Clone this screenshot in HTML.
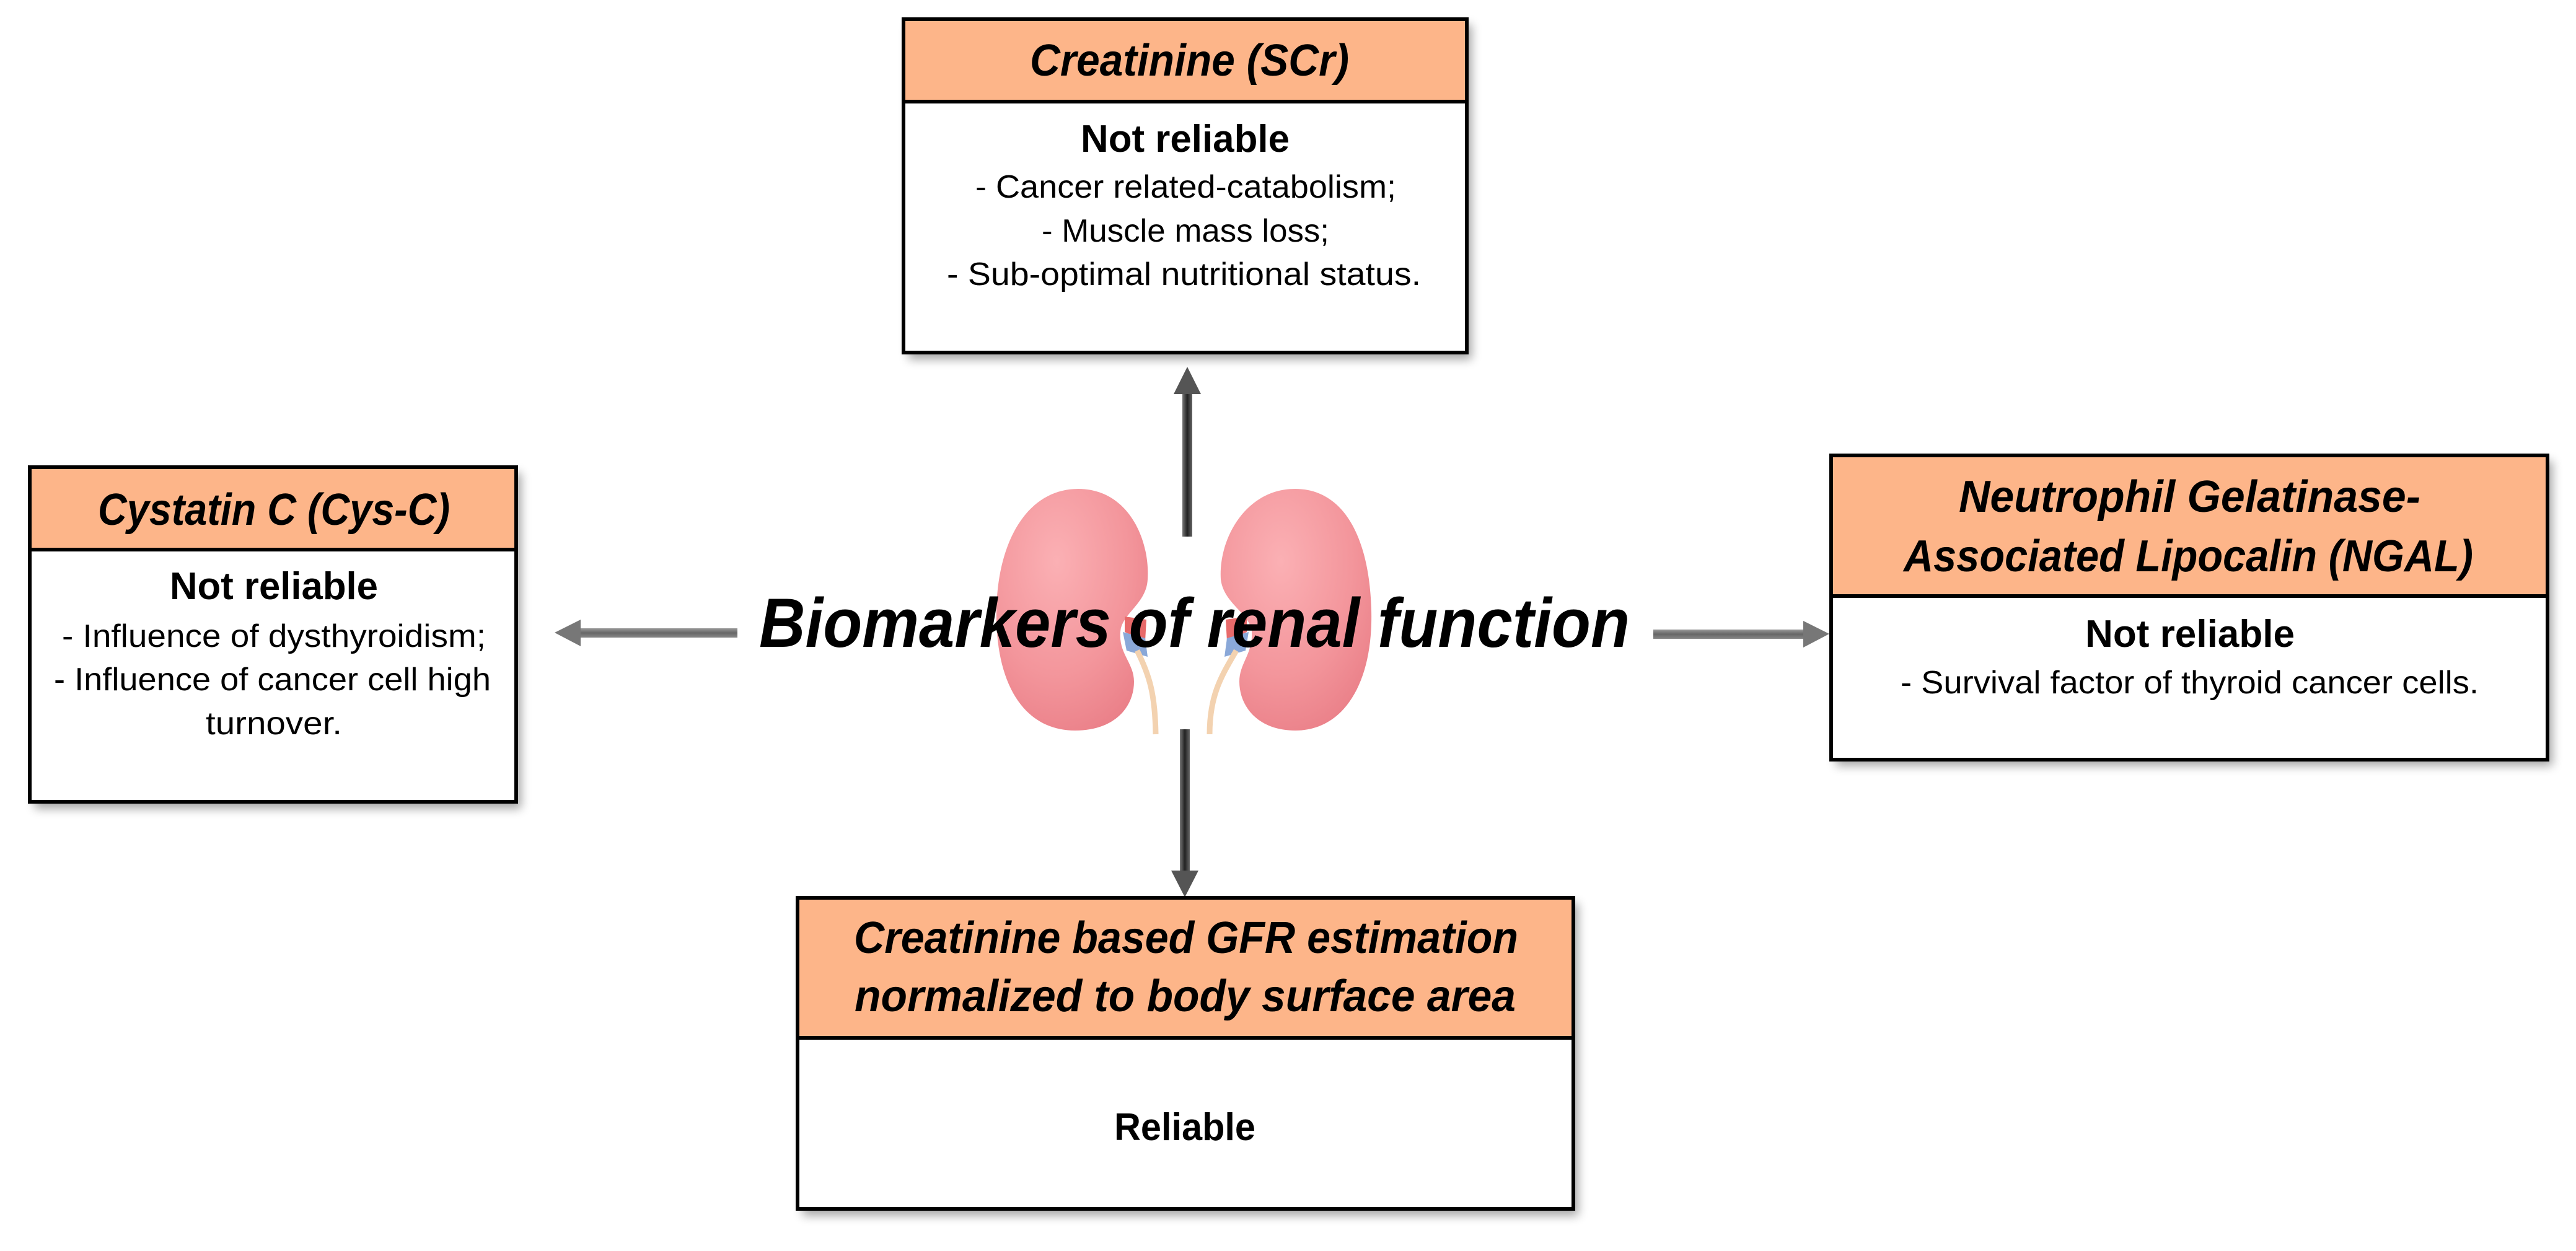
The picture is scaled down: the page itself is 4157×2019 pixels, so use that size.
<!DOCTYPE html>
<html><head><meta charset="utf-8"><style>
html,body{margin:0;padding:0;background:#fff;}
svg{display:block;}
text{font-family:"Liberation Sans",sans-serif;fill:#000;}
.h{font-weight:bold;font-style:italic;}
.b{font-weight:bold;}
</style></head><body>
<svg width="4157" height="2019" viewBox="0 0 4157 2019" xmlns="http://www.w3.org/2000/svg">
<defs>
<filter id="sh" x="-5%" y="-5%" width="115%" height="120%"><feGaussianBlur stdDeviation="8"/></filter>
<linearGradient id="vg" x1="0" x2="1" y1="0" y2="0"><stop offset="0" stop-color="#777"/><stop offset="0.5" stop-color="#222"/><stop offset="1" stop-color="#666"/></linearGradient>
<linearGradient id="hg" x1="0" x2="0" y1="0" y2="1"><stop offset="0" stop-color="#999"/><stop offset="0.5" stop-color="#666"/><stop offset="1" stop-color="#888"/></linearGradient>
<radialGradient id="kg" cx="0.4" cy="0.3" r="0.8"><stop offset="0" stop-color="#fbb0b4"/><stop offset="0.6" stop-color="#f3959b"/><stop offset="1" stop-color="#e97d86"/></radialGradient>
</defs>

<!-- shadows -->
<g fill="#000" opacity="0.35" filter="url(#sh)">
<rect x="1466" y="40" width="909" height="540"/>
<rect x="56" y="763" width="785" height="542"/>
<rect x="2963" y="744" width="1156" height="492"/>
<rect x="1295" y="1458" width="1252" height="504"/>
</g>

<!-- kidneys -->
<g>
<path d="M1740 789 C1660 789 1610 870 1608 985 C1606 1100 1650 1179 1735 1179 C1800 1179 1830 1140 1830 1100 C1830 1070 1805 1055 1808 1020 C1810 990 1850 975 1852 935 C1856 870 1820 789 1740 789 Z" fill="url(#kg)"/>
<path d="M2090 789 C2170 789 2210 870 2213 985 C2216 1100 2170 1179 2090 1179 C2030 1179 2000 1140 2000 1100 C2000 1070 2022 1055 2020 1020 C2018 990 1975 975 1970 935 C1966 870 2010 789 2090 789 Z" fill="url(#kg)"/>
<path d="M1815 995 L1850 1000 L1848 1035 L1815 1020 Z" fill="#e86a6a"/>
<path d="M1812 1020 L1848 1030 L1852 1060 L1818 1050 Z" fill="#8aa8d8"/>
<path d="M2012 995 L1978 1000 L1980 1035 L2012 1020 Z" fill="#e86a6a"/>
<path d="M2015 1020 L1980 1030 L1976 1060 L2010 1050 Z" fill="#8aa8d8"/>
<path d="M1835 1050 C1855 1090 1864 1120 1865 1185" stroke="#f3d2b0" stroke-width="9" fill="none"/>
<path d="M1995 1050 C1972 1090 1952 1120 1952 1185" stroke="#f3d2b0" stroke-width="9" fill="none"/>
</g>

<!-- arrows -->
<rect x="1908" y="630" width="16" height="236" fill="url(#vg)"/>
<polygon points="1916,592 1938,636 1894,636" fill="#555"/>
<rect x="1904" y="1177" width="16" height="230" fill="url(#vg)"/>
<polygon points="1912,1448 1934,1405 1890,1405" fill="#555"/>
<rect x="935" y="1014" width="255" height="15" fill="url(#hg)"/>
<polygon points="895,1021 937,1000 937,1043" fill="#777"/>
<rect x="2668" y="1016" width="245" height="15" fill="url(#hg)"/>
<polygon points="2952,1023 2910,1002 2910,1045" fill="#777"/>

<!-- title -->
<text x="1225" y="1044" class="h" font-size="112" textLength="1405" lengthAdjust="spacingAndGlyphs">Biomarkers of renal function</text>

<!-- top box -->
<rect x="1458" y="31" width="909" height="538" fill="#fff" stroke="#000" stroke-width="6"/>
<rect x="1458" y="31" width="909" height="133" fill="#fdb589" stroke="#000" stroke-width="6"/>
<text x="1662" y="122" class="h" font-size="72" textLength="515" lengthAdjust="spacingAndGlyphs">Creatinine (SCr)</text>
<text x="1744" y="245" class="b" font-size="62" textLength="337" lengthAdjust="spacingAndGlyphs">Not reliable</text>
<text x="1574" y="319" font-size="52" textLength="679" lengthAdjust="spacingAndGlyphs">- Cancer related-catabolism;</text>
<text x="1681" y="390" font-size="52" textLength="464" lengthAdjust="spacingAndGlyphs">- Muscle mass loss;</text>
<text x="1528" y="460" font-size="52" textLength="765" lengthAdjust="spacingAndGlyphs">- Sub-optimal nutritional status.</text>

<!-- left box -->
<rect x="48" y="754" width="785" height="540" fill="#fff" stroke="#000" stroke-width="6"/>
<rect x="48" y="754" width="785" height="133" fill="#fdb589" stroke="#000" stroke-width="6"/>
<text x="158" y="847" class="h" font-size="72" textLength="568" lengthAdjust="spacingAndGlyphs">Cystatin C (Cys-C)</text>
<text x="274" y="967" class="b" font-size="62" textLength="336" lengthAdjust="spacingAndGlyphs">Not reliable</text>
<text x="100" y="1044" font-size="52" textLength="684" lengthAdjust="spacingAndGlyphs">- Influence of dysthyroidism;</text>
<text x="87" y="1114" font-size="52" textLength="705" lengthAdjust="spacingAndGlyphs">- Influence of cancer cell high</text>
<text x="332" y="1185" font-size="52" textLength="220" lengthAdjust="spacingAndGlyphs">turnover.</text>

<!-- right box -->
<rect x="2955" y="735" width="1156" height="491" fill="#fff" stroke="#000" stroke-width="6"/>
<rect x="2955" y="735" width="1156" height="227" fill="#fdb589" stroke="#000" stroke-width="6"/>
<text x="3161" y="826" class="h" font-size="72" textLength="745" lengthAdjust="spacingAndGlyphs">Neutrophil Gelatinase-</text>
<text x="3072" y="922" class="h" font-size="72" textLength="919" lengthAdjust="spacingAndGlyphs">Associated Lipocalin (NGAL)</text>
<text x="3365" y="1044" class="b" font-size="62" textLength="338" lengthAdjust="spacingAndGlyphs">Not reliable</text>
<text x="3067" y="1119" font-size="52" textLength="933" lengthAdjust="spacingAndGlyphs">- Survival factor of thyroid cancer cells.</text>

<!-- bottom box -->
<rect x="1287" y="1449" width="1252" height="502" fill="#fff" stroke="#000" stroke-width="6"/>
<rect x="1287" y="1449" width="1252" height="226" fill="#fdb589" stroke="#000" stroke-width="6"/>
<text x="1378" y="1538" class="h" font-size="72" textLength="1072" lengthAdjust="spacingAndGlyphs">Creatinine based GFR estimation</text>
<text x="1379" y="1632" class="h" font-size="72" textLength="1067" lengthAdjust="spacingAndGlyphs">normalized to body surface area</text>
<text x="1798" y="1840" class="b" font-size="62" textLength="228" lengthAdjust="spacingAndGlyphs">Reliable</text>
</svg>
</body></html>
